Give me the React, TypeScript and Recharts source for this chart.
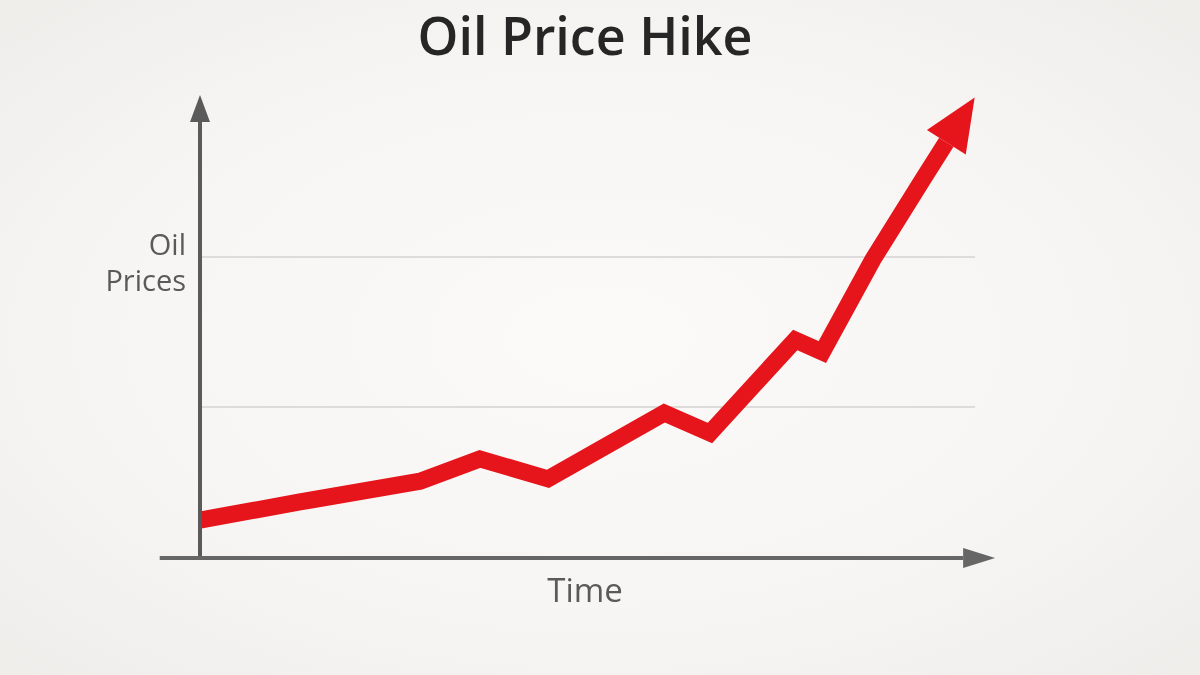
import { LineChart, Line, XAxis, YAxis, ReferenceLine, Customized } from 'recharts'

// time index (0-100) and price index (0-100)
const TIME = [0, 12.9, 28.4, 36.1, 44.9, 59.9, 65.8, 76.8, 80.3, 86.8, 93.2, 96.3]
const PRICE = [8.2, 12.1, 16.6, 21.4, 17.1, 31.3, 27.0, 47.1, 44.5, 64.4, 81.6, 89.8]
const GRID_PRICES = [32.6, 65]
const TITLE = 'Oil Price Hike'
const X_LABEL = 'Time'
const Y_LABEL = ['Oil', 'Prices']

const data = TIME.map((t, i) => ({ t, price: PRICE[i] }))

const RED = '#e6141b'
const AXIS = '#5a5a5a'
const FONT = '"Open Sans", "Noto Sans", sans-serif'

// line with a filled arrow head at its (x2, y2) end
const arrowLine = (color: string, width: number, headLen: number, headHalf: number) =>
  // eslint-disable-next-line @typescript-eslint/no-explicit-any
  (props: any) => {
    const { x1, y1, x2, y2 } = props
    const dx = x2 - x1, dy = y2 - y1
    const len = Math.hypot(dx, dy) || 1
    const ux = dx / len, uy = dy / len
    const bx = x2 - ux * headLen, by = y2 - uy * headLen
    return (
      <g>
        <line x1={x1} y1={y1} x2={bx} y2={by} stroke={color} strokeWidth={width} />
        <polygon
          points={`${x2},${y2} ${bx - uy * headHalf},${by + ux * headHalf} ${bx + uy * headHalf},${by - ux * headHalf}`}
          fill={color}
        />
      </g>
    )
  }

const Texts = () => (
  <g fontFamily={FONT}>
    <text x={585} y={55} textAnchor="middle" fontSize={52} fontWeight={600} fill="#262626">{TITLE}</text>
    <text x={186} y={255} textAnchor="end" fontSize={29} fill={AXIS}>{Y_LABEL[0]}</text>
    <text x={186} y={291} textAnchor="end" fontSize={29} fill={AXIS}>{Y_LABEL[1]}</text>
    <text x={585} y={602} textAnchor="middle" fontSize={33} fill={AXIS}>{X_LABEL}</text>
  </g>
)

export default function App() {
  // remember pixel positions so the last dot can point along the final segment
  const seen: { x: number; y: number }[] = []
  // eslint-disable-next-line @typescript-eslint/no-explicit-any
  const renderDot = (p: any) => {
    seen[p.index] = { x: p.cx, y: p.cy }
    if (p.index !== data.length - 1 || p.index === 0) return <g key={`d-${p.index}`} />
    const prev = seen[p.index - 1]
    const dx = p.cx - prev.x, dy = p.cy - prev.y
    const len = Math.hypot(dx, dy) || 1
    const ux = dx / len, uy = dy / len
    const head = 53, half = 23
    const tx = p.cx + ux * head, ty = p.cy + uy * head
    return (
      <polygon
        key={`d-${p.index}`}
        points={`${tx},${ty} ${p.cx - uy * half},${p.cy + ux * half} ${p.cx + uy * half},${p.cy - ux * half}`}
        fill={RED}
      />
    )
  }

  return (
    <div
      style={{
        position: 'fixed', left: 0, top: 0, width: 1200, height: 675, overflow: 'hidden',
        background: 'radial-gradient(ellipse at 50% 50%, #fbfaf9 0%, #f7f5f3 60%, #efedea 100%)',
      }}
    >
      <LineChart width={1200} height={675} data={data} margin={{ top: 95, right: 225, bottom: 117, left: 200 }}>
        <XAxis type="number" dataKey="t" domain={[0, 100]} hide />
        <YAxis type="number" domain={[0, 100]} hide />
        {GRID_PRICES.map(v => (
          <ReferenceLine key={v} y={v} stroke="#dedcda" strokeWidth={2} />
        ))}
        <Line
          type="linear"
          dataKey="price"
          stroke={RED}
          strokeWidth={17}
          strokeLinejoin="miter"
          dot={renderDot}
          activeDot={false}
          isAnimationActive={false}
        />
        <ReferenceLine
          segment={[{ x: 0, y: 0 }, { x: 0, y: 100 }]}
          ifOverflow="visible"
          shape={arrowLine(AXIS, 4, 27, 10)}
        />
        <ReferenceLine
          segment={[{ x: -5.2, y: 0 }, { x: 102.6, y: 0 }]}
          ifOverflow="visible"
          shape={arrowLine('#666666', 4, 32, 10)}
        />
        <Customized component={Texts} />
      </LineChart>
    </div>
  )
}
